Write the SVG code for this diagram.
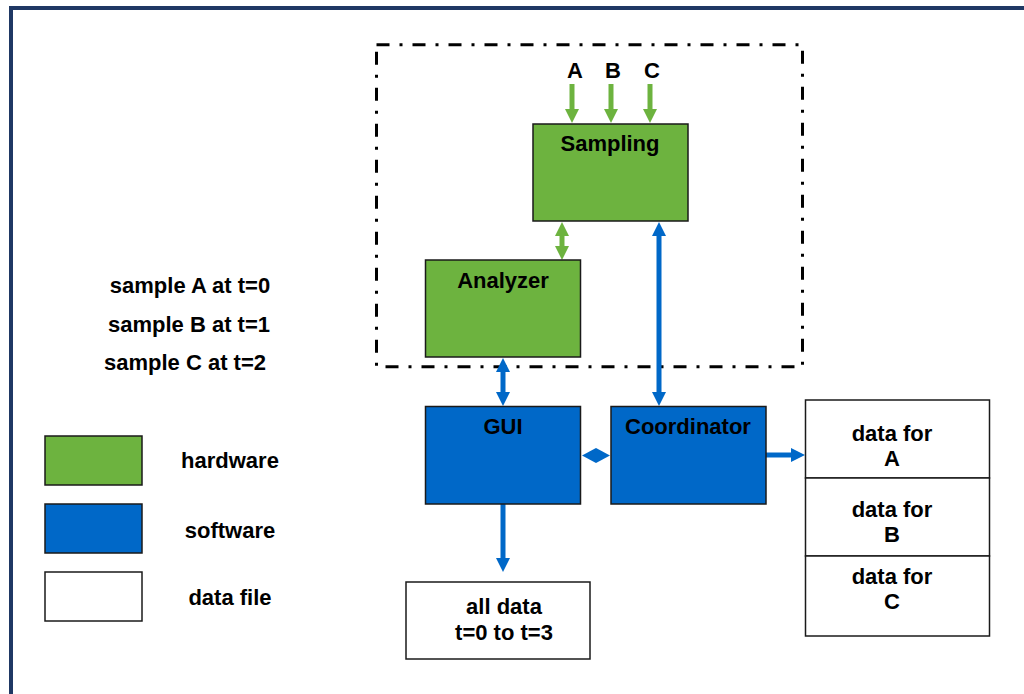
<svg xmlns="http://www.w3.org/2000/svg" width="1024" height="694" viewBox="0 0 1024 694">
<style>
text{font-family:"Liberation Sans",Arial,sans-serif;font-weight:bold;font-size:22px;fill:#000;text-anchor:middle}
.hw{fill:#6DB33F;stroke:#1a1a1a;stroke-width:1.5}
.sw{fill:#0068C8;stroke:#1a1a1a;stroke-width:1.5}
.df{fill:#fff;stroke:#1a1a1a;stroke-width:1.5}
.ga{stroke:#6DB33F;stroke-width:5;fill:none}
.ba{stroke:#0068C8;stroke-width:5;fill:none}
</style>
<defs>
<marker id="hg" markerUnits="userSpaceOnUse" markerWidth="14" markerHeight="14" refX="0" refY="7" orient="auto-start-reverse" viewBox="0 0 14 14"><path d="M0,0L14,7L0,14Z" fill="#6DB33F"/></marker>
<marker id="hb" markerUnits="userSpaceOnUse" markerWidth="14" markerHeight="14" refX="0" refY="7" orient="auto-start-reverse" viewBox="0 0 14 14"><path d="M0,0L14,7L0,14Z" fill="#0068C8"/></marker>
</defs>
<rect width="1024" height="694" fill="#fff"/>
<g id="frame" fill="none" stroke="#1F3864" stroke-width="4">
<path d="M11,694V8H1024"/>
</g>
<g id="hardware-boundary">
<rect x="376.5" y="44.7" width="426" height="322" fill="none" stroke="#000" stroke-width="3" stroke-dasharray="13 10 3 10"/>
</g>
<g id="connectors">
<line class="ga" x1="572" y1="84" x2="572" y2="109" marker-end="url(#hg)"/>
<line class="ga" x1="611" y1="84" x2="611" y2="109" marker-end="url(#hg)"/>
<line class="ga" x1="650" y1="84" x2="650" y2="109" marker-end="url(#hg)"/>
<line class="ga" x1="562" y1="236" x2="562" y2="246" marker-start="url(#hg)" marker-end="url(#hg)"/>
<line class="ba" x1="659" y1="236" x2="659" y2="392" marker-start="url(#hb)" marker-end="url(#hb)"/>
<line class="ba" x1="503" y1="372" x2="503" y2="392" marker-start="url(#hb)" marker-end="url(#hb)"/>
<path d="M582,455.5L596,448L610,455.5L596,463Z" fill="#0068C8"/>
<line class="ba" x1="766" y1="455" x2="791" y2="455" marker-end="url(#hb)"/>
<line class="ba" x1="503" y1="504" x2="503" y2="558" marker-end="url(#hb)"/>
</g>
<g id="inputs">
<text x="575" y="78">A</text>
<text x="613" y="78">B</text>
<text x="652" y="78">C</text>
</g>
<g id="sampling">
<rect class="hw" x="533" y="124" width="155" height="97"/>
<text x="610" y="151">Sampling</text>
</g>
<g id="analyzer">
<rect class="hw" x="425.5" y="260" width="155" height="97"/>
<text x="503" y="288">Analyzer</text>
</g>
<g id="gui">
<rect class="sw" x="425.5" y="406.5" width="155" height="97.5"/>
<text x="503" y="434">GUI</text>
</g>
<g id="coordinator">
<rect class="sw" x="611" y="406.5" width="155" height="97.5"/>
<text x="688" y="434">Coordinator</text>
</g>
<g id="all-data">
<rect class="df" x="406" y="582" width="184" height="77"/>
<text x="504" y="614">all data</text>
<text x="504" y="640">t=0 to t=3</text>
</g>
<g id="data-a">
<rect class="df" x="805.5" y="400" width="184" height="78"/>
<text x="892" y="441">data for</text>
<text x="892" y="466">A</text>
</g>
<g id="data-b">
<rect class="df" x="805.5" y="478" width="184" height="78"/>
<text x="892" y="517">data for</text>
<text x="892" y="542">B</text>
</g>
<g id="data-c">
<rect class="df" x="805.5" y="556" width="184" height="80"/>
<text x="892" y="584">data for</text>
<text x="892" y="609">C</text>
</g>
<g id="notes">
<text x="190" y="293">sample A at t=0</text>
<text x="189" y="332">sample B at t=1</text>
<text x="185" y="370">sample C at t=2</text>
</g>
<g id="legend">
<rect class="hw" x="45" y="436" width="97" height="49"/>
<text x="230" y="468">hardware</text>
<rect class="sw" x="45" y="504" width="97" height="49"/>
<text x="230" y="538">software</text>
<rect class="df" x="45" y="572" width="97" height="49"/>
<text x="230" y="605">data file</text>
</g>
</svg>
